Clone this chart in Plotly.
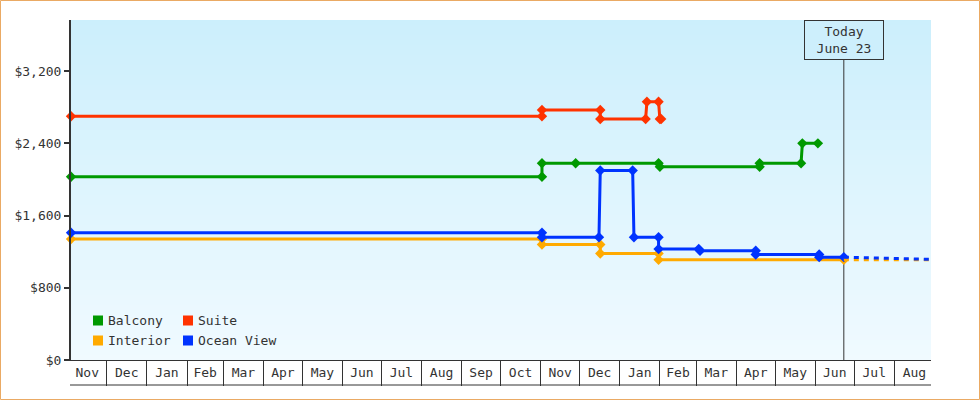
import plotly.graph_objects as go

# Price history per cabin type (date of observation, fare in USD)
balcony_dates = ["2021-11-03 12:00", "2022-11-02", "2022-11-02", "2022-11-28", "2023-01-31",
                 "2023-02-01", "2023-04-19", "2023-04-19", "2023-05-21", "2023-05-22", "2023-06-03"]
balcony_prices = [2029, 2029, 2179, 2179, 2179, 2139, 2139, 2179, 2179, 2399, 2399]

suite_dates = ["2021-11-03 12:00", "2022-11-02", "2022-11-02", "2022-12-17", "2022-12-17",
               "2023-01-21", "2023-01-22", "2023-01-31", "2023-02-01", "2023-02-02"]
suite_prices = [2699, 2699, 2769, 2769, 2669, 2669, 2859, 2859, 2669, 2669]

interior_dates = ["2021-11-03 12:00", "2022-11-02", "2022-11-02", "2022-12-17", "2022-12-17",
                  "2023-01-31", "2023-01-31", "2023-06-23"]
interior_prices = [1339, 1339, 1279, 1279, 1179, 1179, 1109, 1109]

ocean_dates = ["2021-11-03 12:00", "2022-11-02", "2022-11-02", "2022-12-16", "2022-12-17",
               "2023-01-11", "2023-01-12", "2023-01-31", "2023-01-31", "2023-03-03",
               "2023-03-04", "2023-04-16", "2023-04-16", "2023-06-04", "2023-06-04", "2023-06-23"]
ocean_prices = [1409, 1409, 1359, 1359, 2099, 2099, 1359, 1359, 1229, 1229,
                1209, 1209, 1169, 1169, 1139, 1139]

# projection after today
proj_dates = ["2023-06-23", "2023-08-29 07:00"]
interior_proj = [1109, 1109]
ocean_proj = [1139, 1114]

today = "2023-06-23"
today_label = "Today<br>June 23"
x_start, x_end = "2021-11-03 11:00", "2023-08-29 07:00"
y_ticks = [0, 800, 1600, 2400, 3200]
y_labels = ["$0", "$800", "$1,600", "$2,400", "$3,200"]

series = [
    ("Balcony", balcony_dates, balcony_prices, "#009900"),
    ("Suite", suite_dates, suite_prices, "#ff3300"),
    ("Interior", interior_dates, interior_prices, "#ffaa00"),
    ("Ocean View", ocean_dates, ocean_prices, "#0033ff"),
]
projections = [
    (proj_dates, interior_proj, "#ffaa00"),
    (proj_dates, ocean_proj, "#0033ff"),
]

FONT = "DejaVu Sans Mono"
INK = "#333333"
W, H = 980, 400
ML, MR, MT, MB = 71, 49, 20, 40
PW, PH = W - ML - MR, H - MT - MB


def px_x(p):
    return (p - ML) / PW


def px_y(p):
    return (H - MB - p) / PH


fig = go.Figure()

for name, d, p, c in series:
    fig.add_trace(go.Scatter(
        x=d, y=p, name=name, mode="lines+markers",
        line=dict(color=c, width=3),
        marker=dict(symbol="diamond", size=8, color=c),
        cliponaxis=False, showlegend=False,
    ))

for d, p, c in projections:
    fig.add_trace(go.Scatter(
        x=d, y=p, mode="lines",
        line=dict(color=c, width=3, dash="5px,5px"),
        showlegend=False, hoverinfo="skip",
    ))

shapes = []
# vertical gradient background
top_rgb, bot_rgb = (204, 239, 252), (240, 250, 255)
n = 68
for i in range(n):
    t = i / (n - 1)
    col = tuple(round(a + (b - a) * t) for a, b in zip(top_rgb, bot_rgb))
    shapes.append(dict(type="rect", xref="paper", yref="paper",
                       x0=0, x1=1, y0=1 - (i + 1) / n, y1=1 - i / n,
                       fillcolor="rgb(%d,%d,%d)" % col, line_width=0, layer="below"))

# today marker line
shapes.append(dict(type="line", xref="x", yref="paper", x0=today, x1=today,
                   y0=0, y1=1, line=dict(color=INK, width=1), layer="below"))
# bottom of the month label strip
shapes.append(dict(type="line", xref="paper", yref="paper", x0=px_x(70), x1=1,
                   y0=px_y(385), y1=px_y(385), line=dict(color=INK, width=1)))
# outer frame
shapes.append(dict(type="rect", xref="paper", yref="paper",
                   x0=px_x(0.5), x1=px_x(W - 0.5), y0=px_y(H - 0.5), y1=px_y(0.5),
                   line=dict(color="#eaaa64", width=1)))

annotations = [dict(
    x=today, xref="x", y=1, yref="paper", yanchor="top", xanchor="center",
    text=today_label, showarrow=False, align="center",
    font=dict(family=FONT, size=13, color=INK),
    bgcolor="#cdeffc", bordercolor=INK, borderwidth=1, borderpad=1,
    width=76, height=36,
)]

# legend (two columns, square swatches)
legend_pos = [(93, 320.5), (183, 320.5), (93, 340.5), (183, 340.5)]
for (name, _, _, c), (lx, ly) in zip(series, legend_pos):
    shapes.append(dict(type="rect", xref="paper", yref="paper",
                       x0=px_x(lx), x1=px_x(lx + 10), y0=px_y(ly + 5), y1=px_y(ly - 5),
                       fillcolor=c, line_width=0))
    annotations.append(dict(x=px_x(lx + 13), y=px_y(ly), xref="paper", yref="paper",
                            xanchor="left", yanchor="middle", text=name, showarrow=False,
                            font=dict(family=FONT, size=13, color=INK)))

fig.update_layout(
    width=W, height=H,
    margin=dict(l=ML, r=MR, t=MT, b=MB),
    paper_bgcolor="white", plot_bgcolor="white",
    font=dict(family=FONT, size=13, color=INK),
    shapes=shapes, annotations=annotations,
    showlegend=False,
    xaxis=dict(
        type="date", range=[x_start, x_end],
        dtick="M1", tick0="2021-11-01", tickformat="%b", ticklabelmode="period",
        ticks="outside", ticklen=25, tickwidth=1, tickcolor=INK,
        ticklabelstandoff=-25,
        showline=True, linecolor=INK, linewidth=1,
        showgrid=False, zeroline=False,
        tickfont=dict(family=FONT, size=13, color=INK),
    ),
    yaxis=dict(
        range=[0, 3765], tickvals=y_ticks, ticktext=y_labels,
        ticks="outside", ticklen=5, tickwidth=2, tickcolor=INK,
        showline=True, linecolor=INK, linewidth=2,
        showgrid=False, zeroline=False,
        tickfont=dict(family=FONT, size=13, color=INK),
    ),
)

fig.write_html("out.html", config={"displayModeBar": False},
               post_script="document.body.style.margin='0';")
